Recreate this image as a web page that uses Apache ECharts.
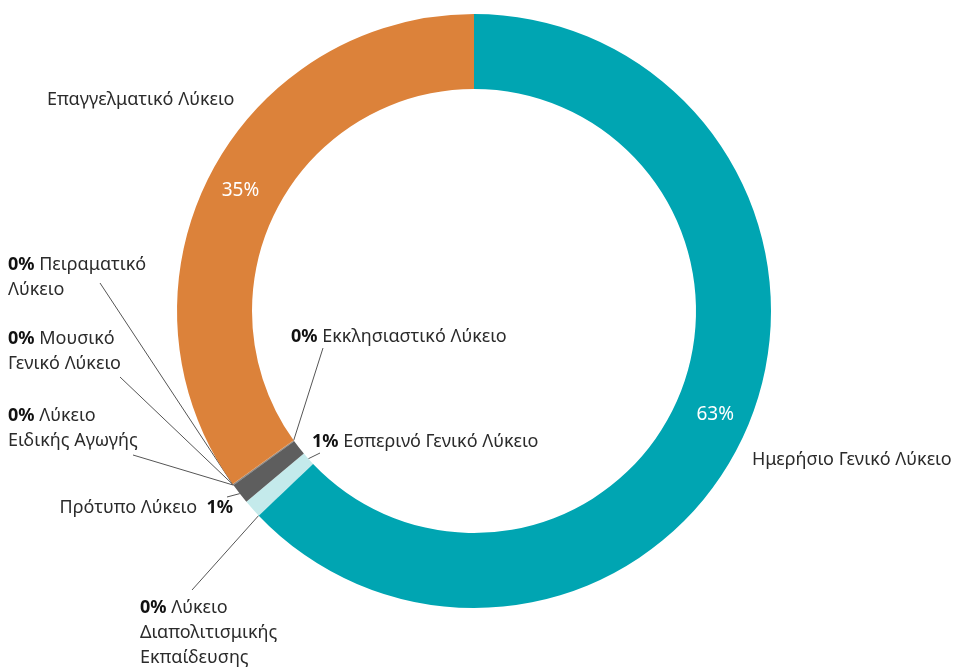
<!DOCTYPE html>
<html>
<head>
<meta charset="utf-8">
<script src="https://cdn.jsdelivr.net/npm/echarts@6/dist/echarts.min.js"></script>
<style>
	html, body { margin: 0; padding: 0; background: #fff; }
	#pie { width: 960px; height: 669px; }
</style>
</head>
<body>
<div id="pie"></div>
<script>
// data, clockwise from 12 o'clock
var names = [
	'Ημερήσιο Γενικό Λύκειο',
	'Λύκειο Διαπολιτισμικής Εκπαίδευσης',
	'Εσπερινό Γενικό Λύκειο',
	'Πρότυπο Λύκειο',
	'Λύκειο Ειδικής Αγωγής',
	'Μουσικό Γενικό Λύκειο',
	'Πειραματικό Λύκειο',
	'Εκκλησιαστικό Λύκειο',
	'Επαγγελματικό Λύκειο'
]
var values = [62.9, 0.02, 0.98, 1.12, 0.02, 0.02, 0.02, 0.02, 34.9]
var colors = ['#00a5b2', '#00a5b2', '#c4eaeb', '#5e5e5e', '#5e5e5e', '#5e5e5e', '#5e5e5e', '#dc823a', '#dc823a']

// label text as it is broken on the picture
var labelText = [
	'Ημερήσιο Γενικό Λύκειο',
	'{b|P} Λύκειο\nΔιαπολιτισμικής\nΕκπαίδευσης',
	'{b|P} Εσπερινό Γενικό Λύκειο',
	'Πρότυπο Λύκειο  {b|P}',
	'{b|P} Λύκειο\nΕιδικής Αγωγής',
	'{b|P} Μουσικό\nΓενικό Λύκειο',
	'{b|P} Πειραματικό\nΛύκειο',
	'{b|P} Εκκλησιαστικό Λύκειο',
	'Επαγγελματικό Λύκειο'
]

var CENTER = [474, 311]
var R0 = 222
var R1 = 297

// where each outside label sits and where its guide line ends
var labelPos = [
	{ x: 752, y: 460, align: 'left' },
	{ x: 140, y: 633, align: 'left', end: [192, 590] },
	{ x: 312, y: 442, align: 'left', end: [320, 453], inner: true },
	{ x: 233, y: 508, align: 'right', end: [227, 497] },
	{ x: 8, y: 428, align: 'left', end: [133, 455] },
	{ x: 8, y: 351, align: 'left', end: [120, 377] },
	{ x: 8, y: 277, align: 'left', end: [100, 283] },
	{ x: 291, y: 337, align: 'left', end: [323, 348], inner: true },
	{ x: 47, y: 100, align: 'left' }
]

function pct(p) {
	return Math.round(p) + '%'
}

var myChart = echarts.init(document.getElementById('pie'))

var data = names.map(function (n, i) {
	var item = { name: n, value: values[i], itemStyle: { color: colors[i] } }
	if (!labelPos[i].end) item.labelLine = { show: false }
	return item
})

myChart.setOption({
	animation: false,
	textStyle: { fontFamily: 'Noto Sans' },
	series: [
		{
			type: 'pie',
			center: CENTER,
			radius: [R0, R1],
			startAngle: 90,
			clockwise: true,
			avoidLabelOverlap: false,
			data: data,
			itemStyle: { borderWidth: 0 },
			label: {
				show: true,
				position: 'outside',
				fontSize: 18,
				lineHeight: 25,
				color: '#2b2b2b',
				formatter: function (params) {
					return labelText[params.dataIndex].replace('P', pct(params.percent))
				},
				rich: {
					b: { fontSize: 18, lineHeight: 25, fontWeight: 'bold', color: '#111' }
				}
			},
			labelLine: {
				show: true,
				smooth: false,
				lineStyle: { color: '#555', width: 1 }
			},
			labelLayout: function (params) {
				var p = labelPos[params.dataIndex]
				var out = { x: p.x, y: p.y, align: p.align, verticalAlign: 'middle' }
				if (p.end && params.labelLinePoints) {
					var s = params.labelLinePoints[0]
					if (p.inner) {
						var k = R0 / R1
						s = [CENTER[0] + (s[0] - CENTER[0]) * k, CENTER[1] + (s[1] - CENTER[1]) * k]
					}
					out.labelLinePoints = [s, p.end, p.end]
				}
				return out
			}
		},
		{
			type: 'pie',
			center: CENTER,
			radius: [R0, R1],
			startAngle: 90,
			clockwise: true,
			silent: true,
			data: names.map(function (n, i) {
				return { name: n, value: values[i] }
			}),
			itemStyle: { color: 'rgba(0,0,0,0)', borderWidth: 0 },
			label: {
				show: true,
				position: 'inside',
				fontSize: 19,
				color: '#fff',
				formatter: function (params) {
					return params.percent >= 5 ? pct(params.percent) : ''
				}
			},
			labelLine: { show: false }
		}
	]
})
</script>
</body>
</html>
